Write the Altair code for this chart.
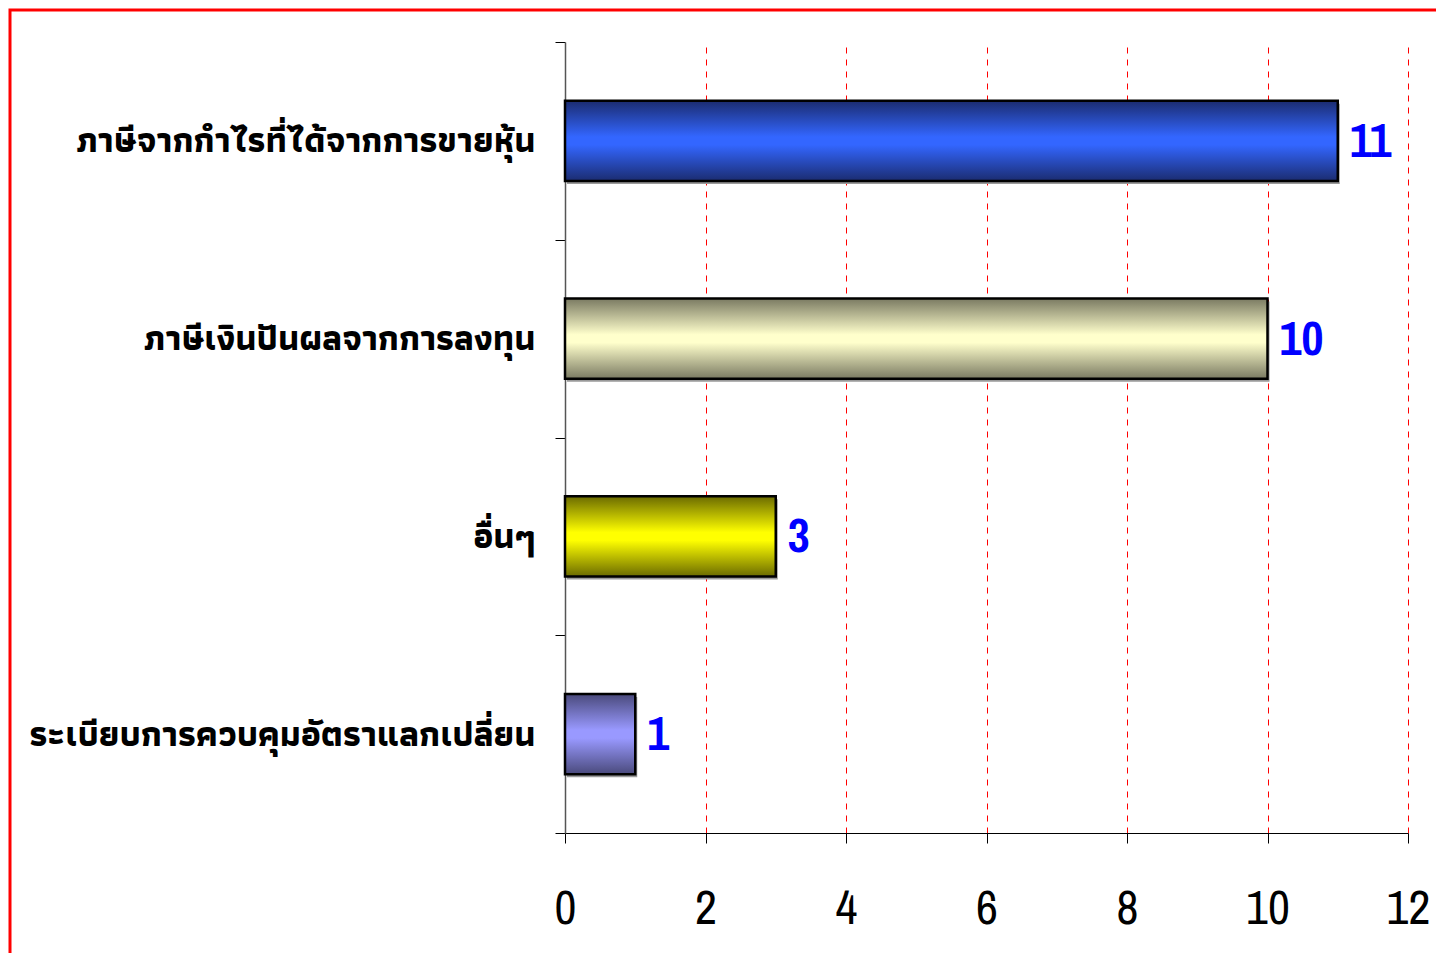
import altair as alt
import pandas as pd

categories = [
    "ภาษีจากกำไรที่ได้จากการขายหุ้น",
    "ภาษีเงินปันผลจากการลงทุน",
    "อื่นๆ",
    "ระเบียบการควบคุมอัตราแลกเปลี่ยน",
]
values = [11, 10, 3, 1]
edge_colors = ["#1b2c70", "#7a7a62", "#6b6b00", "#4a4a7c"]
center_colors = ["#3366ff", "#ffffcc", "#ffff00", "#9999ff"]
tick_values = [0, 2, 4, 6, 8, 10, 12]

df = pd.DataFrame({"category": categories, "value": values})

thai_font = "Athiti, Sarabun, Noto Sans Thai, sans-serif"
num_font = "Archivo Narrow, Barlow Condensed, Liberation Sans, sans-serif"

y_enc = alt.Y(
    "category:N",
    sort=categories,
    scale=alt.Scale(paddingInner=0, paddingOuter=0),
    axis=alt.Axis(
        title=None,
        labelFont=thai_font,
        labelFontSize=35,
        labelFontWeight="bold",
        labelColor="black",
        labelPadding=20,
        labelLimit=700,
        tickBand="extent",
        tickSize=10,
        tickColor="black",
        domainColor="#555555",
        domainWidth=1.5,
        grid=False,
    ),
)
x_enc = alt.X(
    "value:Q",
    scale=alt.Scale(domain=[0, 12], nice=False),
    axis=alt.Axis(
        title=None,
        values=tick_values,
        format="d",
        labelFlush=False,
        labelFont=num_font,
        labelFontSize=48,
        labelColor="black",
        labelPadding=42,
        tickSize=10,
        tickColor="black",
        domainColor="black",
        domainWidth=1.2,
        grid=True,
        gridColor={"condition": {"test": "datum.value === 0", "value": "transparent"}, "value": "red"},
        gridDash=[6, 6],
        gridWidth=1,
    ),
)

bar_h = {"band": 0.405}
base = alt.Chart(df)

frame = alt.Chart(pd.DataFrame({"f": [1]})).mark_rect(
    filled=False, stroke="red", strokeWidth=3
).encode(
    x=alt.value(-555), x2=alt.value(950), y=alt.value(-32), y2=alt.value(1000)
)

layers = []
shadow = base.mark_bar(color="#9a9a9a", xOffset=2, yOffset=3, height=bar_h).encode(x=x_enc, y=y_enc)
layers.append(shadow)

for cat, edge, center in zip(categories, edge_colors, center_colors):
    grad = alt.Gradient(
        gradient="linear",
        stops=[
            alt.GradientStop(color=edge, offset=0),
            alt.GradientStop(color=center, offset=0.45),
            alt.GradientStop(color=center, offset=0.55),
            alt.GradientStop(color=edge, offset=1),
        ],
        x1=0, x2=0, y1=0, y2=1,
    )
    layers.append(
        base.transform_filter(alt.datum.category == cat)
        .mark_bar(color=grad, stroke="black", strokeWidth=2.5, height=bar_h)
        .encode(x="value:Q", y=alt.Y("category:N", sort=categories))
    )

text = base.mark_text(
    align="left", baseline="middle", dx=12, dy=2, font=num_font, fontSize=48,
    fontWeight="bold", color="#0000ff"
).encode(x="value:Q", y=alt.Y("category:N", sort=categories), text="value:Q")
layers.append(text)

chart = alt.layer(frame, *layers).properties(
    width=843,
    height=791,
    padding={"left": 557, "top": 34, "right": 28, "bottom": 120},
    autosize=alt.AutoSizeParams(type="none"),
    background="white",
).configure_view(stroke=None)

chart.save("out.html", embed_options={"renderer": "svg", "actions": False})
